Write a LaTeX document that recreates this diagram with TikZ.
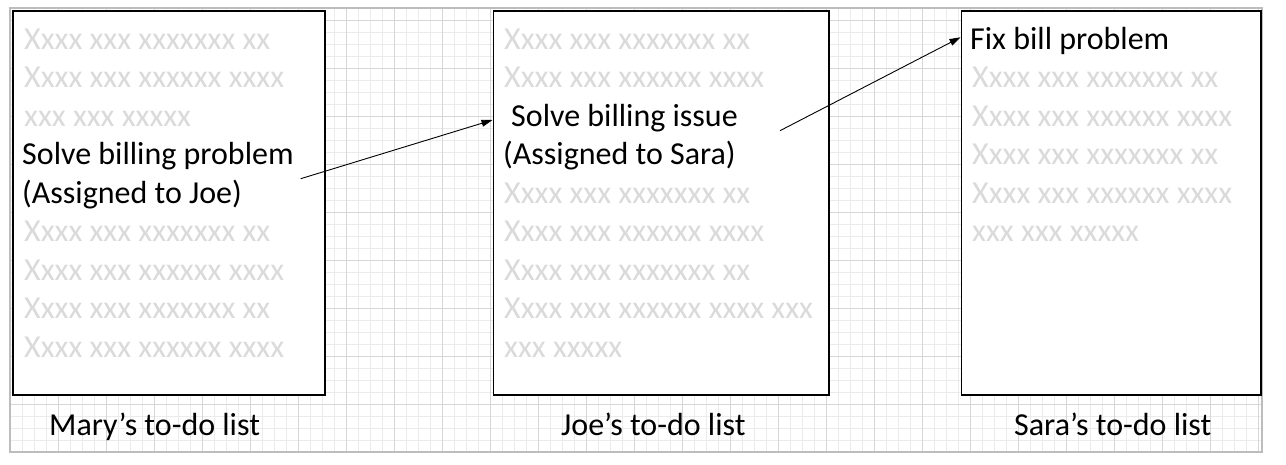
\documentclass[tikz,border=0pt]{standalone}
\usepackage{fontspec}
\setmainfont{Carlito}
\usetikzlibrary{arrows.meta}
\definecolor{gridminor}{HTML}{EBEBEB}
\definecolor{gridmajor}{HTML}{D6D6D6}
\definecolor{gridborder}{HTML}{BDBDBD}
\definecolor{filler}{HTML}{DADADA}
\tikzset{
  listbox/.style={draw=black, line width=1.8pt, fill=white, anchor=north west, inner sep=0pt, minimum height=384pt},
  txt/.style={anchor=base west, inner sep=0pt, font=\fontsize{32}{38}\selectfont},
  fill txt/.style={txt, text=filler},
  main txt/.style={txt, text=black},
  caption/.style={txt, text=black},
  link/.style={line width=0.9pt, -{Triangle[length=11pt,width=7pt]}}
}
\begin{document}
\begin{tikzpicture}[x=1pt,y=-1pt]
\useasboundingbox (0,0) rectangle (1286,464);
% grid
\foreach \i in {0,...,104} \draw[gridminor, line width=0.8pt] ({10.7+12*\i},8) -- ({10.7+12*\i},452);
\foreach \j in {0,...,36} \draw[gridminor, line width=0.8pt] (10,{8.3+12*\j}) -- (1262,{8.3+12*\j});
\foreach \i in {0,...,26} \draw[gridmajor, line width=0.8pt] ({10.7+48*\i},8) -- ({10.7+48*\i},452);
\foreach \j in {0,...,8} \draw[gridmajor, line width=0.8pt] (10,{20.3+48*\j}) -- (1262,{20.3+48*\j});
\draw[gridborder, line width=1.2pt] (10,8) rectangle (1262,452);
% boxes
\node[listbox, minimum width=312pt] (mary) at (12,10) {};
\node[listbox, minimum width=335.5pt] (joe) at (492.5,10) {};
\node[listbox, minimum width=299.5pt] (sara) at (960.5,10) {};
% Mary's list
\node[fill txt] (m1) at (24,49.3) {Xxxx xxx xxxxxxx xx};
\node[fill txt] (m2) at (24,87.8) {Xxxx xxx xxxxxx xxxx};
\node[fill txt] (m3) at (24,126.3) {xxx xxx xxxxx};
\node[main txt] (m4) at (22,164.8) {Solve billing problem};
\node[main txt] (m5) at (22,203.3) {(Assigned to Joe)};
\node[fill txt] (m6) at (24,241.8) {Xxxx xxx xxxxxxx xx};
\node[fill txt] (m7) at (24,280.3) {Xxxx xxx xxxxxx xxxx};
\node[fill txt] (m8) at (24,318.8) {Xxxx xxx xxxxxxx xx};
\node[fill txt] (m9) at (24,357.3) {Xxxx xxx xxxxxx xxxx};
% Joe's list
\node[fill txt] (j1) at (504,49.3) {Xxxx xxx xxxxxxx xx};
\node[fill txt] (j2) at (504,87.8) {Xxxx xxx xxxxxx xxxx};
\node[main txt] (j3) at (511,126.3) {Solve billing issue};
\node[main txt] (j4) at (503,164.8) {(Assigned to Sara)};
\node[fill txt] (j5) at (504,203.3) {Xxxx xxx xxxxxxx xx};
\node[fill txt] (j6) at (504,241.8) {Xxxx xxx xxxxxx xxxx};
\node[fill txt] (j7) at (504,280.3) {Xxxx xxx xxxxxxx xx};
\node[fill txt] (j8) at (504,318.8) {Xxxx xxx xxxxxx xxxx xxx};
\node[fill txt] (j9) at (504,357.3) {xxx xxxxx};
% Sara's list
\node[main txt] (s1) at (970,49.3) {Fix bill problem};
\node[fill txt] (s2) at (972,87.8) {Xxxx xxx xxxxxxx xx};
\node[fill txt] (s3) at (972,126.3) {Xxxx xxx xxxxxx xxxx};
\node[fill txt] (s4) at (972,164.8) {Xxxx xxx xxxxxxx xx};
\node[fill txt] (s5) at (972,203.3) {Xxxx xxx xxxxxx xxxx};
\node[fill txt] (s6) at (972,241.8) {xxx xxx xxxxx};
% captions
\node[caption] (cm) at (49,435) {Mary’s to-do list};
\node[caption] (cj) at (561,435) {Joe’s to-do list};
\node[caption] (cs) at (1014,435) {Sara’s to-do list};
% connectors
\coordinate (a1) at (300.7,178.7);
\coordinate (b1) at (joe.west |- 0,120);
\coordinate (a2) at (780,130.7);
\coordinate (b2) at (sara.west |- 0,37.3);
\draw[link] (a1) -- (b1);
\draw[link] (a2) -- (b2);
\end{tikzpicture}
\end{document}
